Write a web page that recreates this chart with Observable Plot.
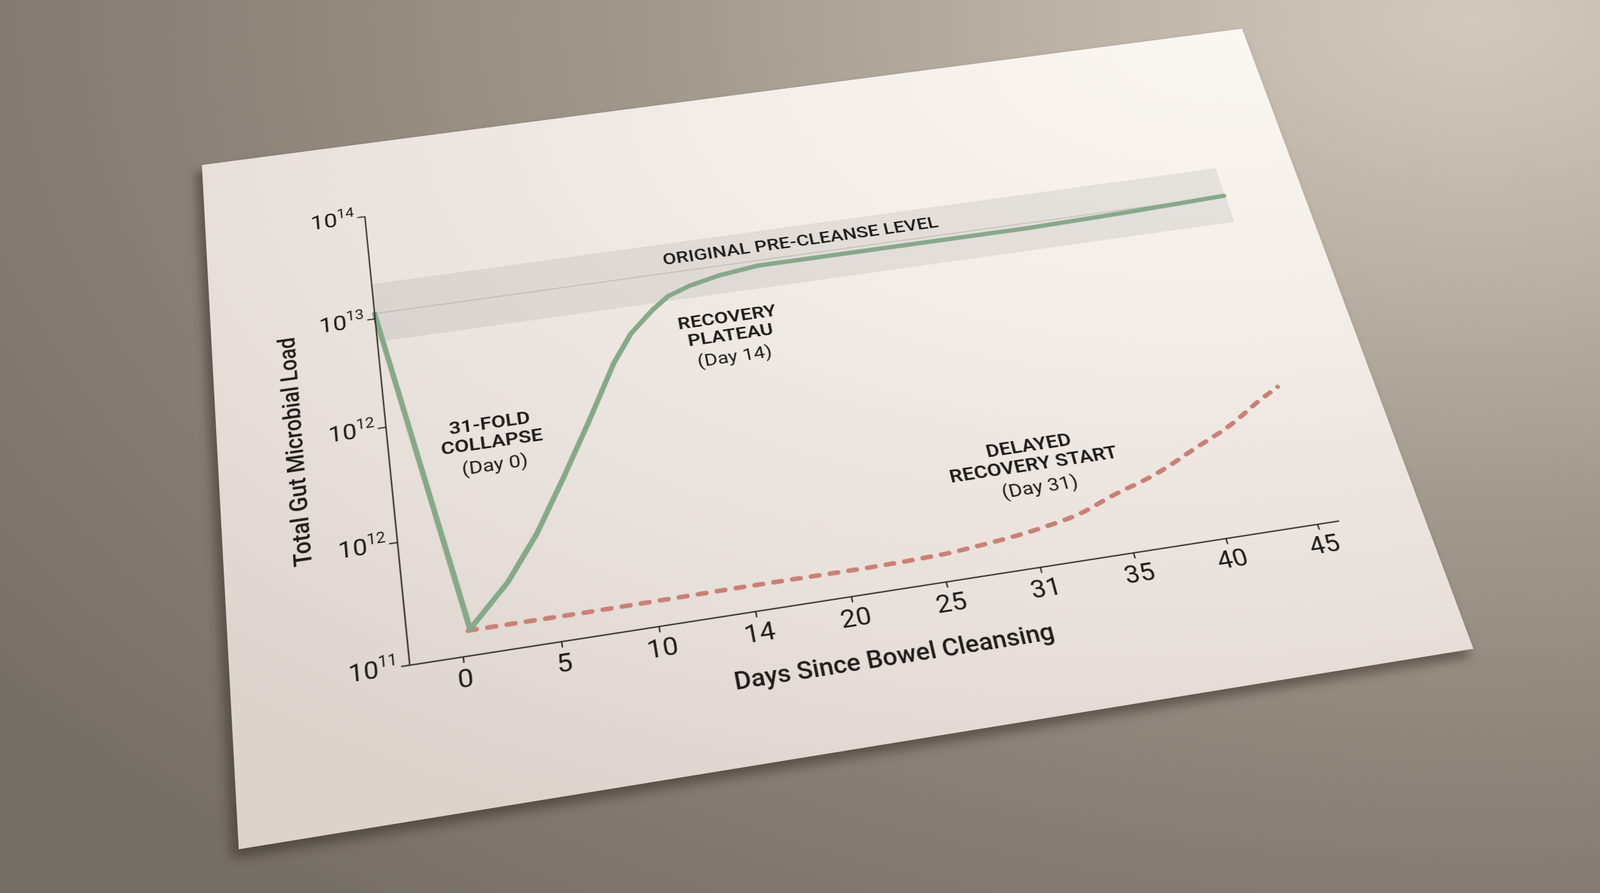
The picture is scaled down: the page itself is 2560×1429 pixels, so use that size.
<!DOCTYPE html>
<html>
<head>
<meta charset="utf-8">
<script src="https://cdn.jsdelivr.net/npm/d3@7"></script>
<script src="https://cdn.jsdelivr.net/npm/@observablehq/plot@0.6"></script>
<style>
html,body{margin:0;padding:0;width:2560px;height:1429px;overflow:hidden;}
body{background:radial-gradient(ellipse 115% 125% at 92% 2%, #d3c9bd 0%, #bcb2a6 22%, #a1988d 45%, #8a8278 70%, #766f67 100%);}
#paper{position:absolute;left:0;top:0;width:1800px;height:1200px;transform-origin:0 0;
  background:radial-gradient(ellipse 130% 125% at 100% 0%, #fbf7f1 0%, #f3ede7 40%, #e8e0da 75%, #dcd3cd 100%);
  box-shadow:-10px 12px 16px rgba(35,28,20,0.45);}
#paper svg{display:block;overflow:visible;}
#paper g[aria-label="x-axis tick"] path,#paper g[aria-label="y-axis tick"] path{stroke-width:2px;}
</style>
</head>
<body>
<div id="paper"></div>
<script>
// ---- data ----
const dayTicks = [0, 5, 10, 15, 20, 25, 30, 35, 40, 45];
const dayTickLabels = ["0", "5", "10", "14", "20", "25", "31", "35", "40", "45"];
const levelTicks = [0, 1, 2, 3, 4];
const levelExponents = ["11", "12", "12", "13", "14"];

const greenDays   = [-2.7, 0.5, 2.7, 4.5, 6.3, 8.1, 9.9, 11.1, 12.5, 13.5, 14.8, 16.6, 18.8, 28.6, 34.5, 40.3, 46.1];
const greenLevels = [3.05, 0.21, 0.54, 0.90, 1.34, 1.80, 2.28, 2.53, 2.72, 2.83, 2.90, 2.96, 3.00, 3.00, 3.00, 3.02, 3.05];

const redDays   = [0.4, 5, 10, 15, 20, 25, 27.1, 30.7, 32.9, 34.7, 37.4, 39.8, 42.3, 44.0, 45.4];
const redLevels = [0.20, 0.20, 0.205, 0.21, 0.21, 0.225, 0.25, 0.32, 0.39, 0.49, 0.62, 0.78, 0.95, 1.10, 1.21];

const bandRange = [2.78, 3.33];
const baselineLevel = 3.05;
const bandLabel = "ORIGINAL PRE-CLEANSE LEVEL";
const bandLabelDay = 21.5;
const bandLabelLevel = 3.18;

const annTitles = ["31-FOLD\nCOLLAPSE", "RECOVERY\nPLATEAU", "DELAYED\nRECOVERY START"];
const annSubs   = ["(Day 0)", "(Day 14)", "(Day 31)"];
const annDays   = [2.8, 16.5, 31.1];
const annLevels = [1.74, 2.39, 0.86];

const xLabel = "Days Since Bowel Cleansing";
const yLabel = "Total Gut Microbial Load";
const yLabelLevel = 1.93;
const xDomain = [-2.7, 46.2];
const yDomain = [0, 4];

// ---- layout: paper perspective ----
const W = 1800, H = 1200;
const paperCorners = [[323, 264], [1987, 46], [2357, 1038], [382, 1359]];
function solveH(src, dst) {
  const A = [], b = [];
  for (let i = 0; i < 4; i++) {
    const [x, y] = src[i], [X, Y] = dst[i];
    A.push([x, y, 1, 0, 0, 0, -x * X, -y * X]); b.push(X);
    A.push([0, 0, 0, x, y, 1, -x * Y, -y * Y]); b.push(Y);
  }
  const n = 8;
  for (let c = 0; c < n; c++) {
    let p = c;
    for (let r = c + 1; r < n; r++) if (Math.abs(A[r][c]) > Math.abs(A[p][c])) p = r;
    [A[c], A[p]] = [A[p], A[c]]; [b[c], b[p]] = [b[p], b[c]];
    for (let r = 0; r < n; r++) {
      if (r === c) continue;
      const f = A[r][c] / A[c][c];
      for (let k = c; k < n; k++) A[r][k] -= f * A[c][k];
      b[r] -= f * b[c];
    }
  }
  const h = b.map((v, i) => v / A[i][i]);
  return [...h, 1];
}
function inv3(m) {
  const [a, b, c, d, e, f, g, h, i] = m;
  const A = e * i - f * h, B = -(d * i - f * g), C = d * h - e * g;
  const det = a * A + b * B + c * C;
  return [A / det, -(b * i - c * h) / det, (b * f - c * e) / det,
          B / det, (a * i - c * g) / det, -(a * f - c * d) / det,
          C / det, -(a * h - b * g) / det, (a * e - b * d) / det];
}
const Hm = solveH([[0, 0], [W, 0], [W, H], [0, H]], paperCorners);
const Hi = inv3(Hm);
function toFlat(X, Y) {
  const w = Hi[6] * X + Hi[7] * Y + Hi[8];
  return {x: (Hi[0] * X + Hi[1] * Y + Hi[2]) / w, y: (Hi[3] * X + Hi[4] * Y + Hi[5]) / w};
}
const paper = document.getElementById("paper");
paper.style.transform = `matrix3d(${Hm[0]},${Hm[3]},0,${Hm[6]},${Hm[1]},${Hm[4]},0,${Hm[7]},0,0,1,0,${Hm[2]},${Hm[5]},0,${Hm[8]})`;

// frame corners as seen in the photo
const O = toFlat(655, 1064), YT = toFlat(586, 346), XE = toFlat(2142, 833);

const green = greenDays.map((d, i) => ({day: d, level: greenLevels[i]}));
const red = redDays.map((d, i) => ({day: d, level: redLevels[i]}));
const ann = annTitles.map((t, i) => ({title: t, sub: annSubs[i], day: annDays[i], level: annLevels[i]}));
const ink = "#1f1d1b";
const annFont = 32, annLH = 1.07, subGap = 41;

const chart = Plot.plot({
  width: W, height: H,
  marginLeft: O.x, marginRight: W - XE.x, marginTop: YT.y, marginBottom: H - O.y,
  style: {background: "transparent", fontFamily: "Roboto, 'Noto Sans', sans-serif", color: ink, overflow: "visible"},
  x: {domain: xDomain},
  y: {domain: yDomain},
  marks: [
    Plot.rect([bandRange], {x1: () => xDomain[0], x2: () => xDomain[1], y1: d => d[0], y2: d => d[1], fill: "#8c9096", fillOpacity: 0.17}),
    Plot.ruleY([baselineLevel], {stroke: "#a9a7a4", strokeWidth: 1.5, strokeOpacity: 0.7}),
    Plot.text([bandLabel], {x: () => bandLabelDay, y: () => bandLabelLevel, text: d => d, fontSize: 32, fontWeight: 500, fill: ink}),
    Plot.line(red, {x: "day", y: "level", stroke: "#c98076", strokeWidth: 7.5, strokeDasharray: "12,16.5", strokeLinecap: "round", curve: "monotone-x"}),
    Plot.line(green, {x: "day", y: "level", stroke: "#86a989", strokeWidth: 8.5, strokeLinejoin: "round", strokeLinecap: "round"}),
    Plot.ruleY([yDomain[0]], {stroke: ink, strokeWidth: 2}),
    Plot.ruleX([xDomain[0]], {stroke: ink, strokeWidth: 2}),
    Plot.axisX({ticks: dayTicks, tickFormat: d => dayTickLabels[dayTicks.indexOf(d)], tickSize: 10, tickPadding: 9, fontSize: 41, label: null, stroke: ink, fill: ink}),
    Plot.axisY({ticks: levelTicks, tickFormat: d => "10^" + levelExponents[levelTicks.indexOf(d)], tickSize: 12, tickPadding: 5, fontSize: 39, label: null, stroke: ink, fill: ink}),
    Plot.text([xLabel], {frameAnchor: "bottom", dy: 118, dx: -6, text: d => d, fontSize: 38, fontWeight: 500, fill: ink}),
    Plot.text([yLabel], {x: () => xDomain[0], y: () => yLabelLevel, dx: -141, rotate: -90, text: d => d, fontSize: 37.5, fontWeight: 500, fill: ink}),
    Plot.text(ann, {x: "day", y: "level", text: "title", lineAnchor: "middle", dy: -annFont * annLH / 2, fontSize: annFont, fontWeight: 600, lineHeight: annLH, fill: ink}),
    Plot.text(ann, {x: "day", y: "level", text: "sub", lineAnchor: "middle", dy: subGap, fontSize: annFont, fontWeight: 400, fill: ink})
  ]
});

// superscript exponents on the y tick labels
chart.querySelectorAll("text").forEach(t => {
  const s = t.textContent;
  if (s.startsWith("10^")) {
    const exp = s.slice(3);
    while (t.firstChild) t.removeChild(t.firstChild);
    const a = document.createElementNS("http://www.w3.org/2000/svg", "tspan");
    a.textContent = "10";
    const b = document.createElementNS("http://www.w3.org/2000/svg", "tspan");
    b.textContent = exp;
    b.setAttribute("font-size", "25");
    b.setAttribute("dy", "-16");
    t.appendChild(a); t.appendChild(b);
  }
});
paper.appendChild(chart);
</script>
</body>
</html>
